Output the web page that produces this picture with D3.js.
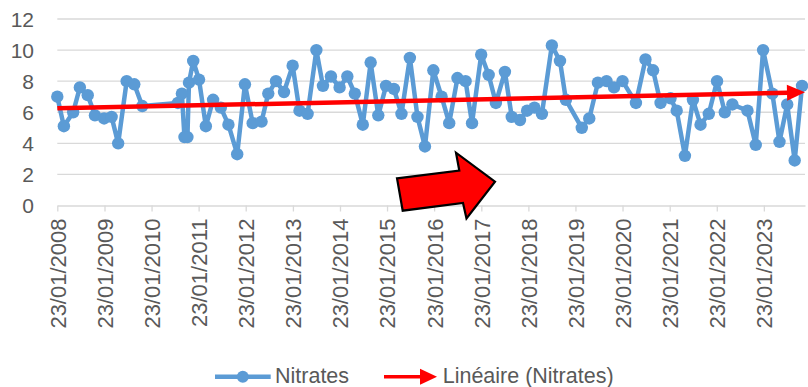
<!DOCTYPE html>
<html><head><meta charset="utf-8">
<script src="https://cdn.jsdelivr.net/npm/d3@7"></script>
<style>body{margin:0;background:#fff;}svg{display:block;font-family:"Liberation Sans",Arial,sans-serif;}</style>
</head><body><svg id="c" width="808" height="387"></svg>
<script>
const dates = ["2008-01-23","2008-03-14","2008-05-25","2008-07-16","2008-09-15","2008-11-10","2009-01-20","2009-03-19","2009-05-09","2009-07-14","2009-09-11","2009-11-12","2010-08-15","2010-09-15","2010-10-05","2010-10-28","2010-11-09","2010-12-12","2011-01-26","2011-03-20","2011-05-15","2011-07-14","2011-09-11","2011-11-18","2012-01-17","2012-03-17","2012-05-25","2012-07-16","2012-09-14","2012-11-15","2013-01-21","2013-03-15","2013-05-17","2013-07-24","2013-09-13","2013-11-14","2014-01-20","2014-03-21","2014-05-18","2014-07-19","2014-09-18","2014-11-16","2015-01-15","2015-03-17","2015-05-15","2015-07-19","2015-09-16","2015-11-13","2016-01-17","2016-03-21","2016-05-19","2016-07-22","2016-09-23","2016-11-12","2017-01-22","2017-03-21","2017-05-16","2017-07-25","2017-09-16","2017-11-19","2018-01-13","2018-03-11","2018-05-08","2018-07-24","2018-09-25","2018-11-10","2019-03-13","2019-05-10","2019-07-16","2019-09-21","2019-11-18","2020-01-23","2020-05-06","2020-07-19","2020-09-16","2020-11-13","2021-01-29","2021-03-18","2021-05-21","2021-07-22","2021-09-19","2021-11-22","2022-01-25","2022-03-26","2022-05-24","2022-09-18","2022-11-21","2023-01-17","2023-03-30","2023-05-24","2023-07-23","2023-09-19","2023-11-15"];
const nitrates = [7.0,5.1,6.0,7.6,7.1,5.8,5.6,5.7,4.0,8.0,7.8,6.4,6.6,7.2,4.4,4.4,7.9,9.3,8.1,5.1,6.8,6.3,5.2,3.3,7.8,5.3,5.4,7.2,8.0,7.3,9.0,6.1,5.9,10.0,7.7,8.3,7.6,8.3,7.2,5.2,9.2,5.8,7.7,7.5,5.9,9.5,5.7,3.8,8.7,7.0,5.3,8.2,8.0,5.3,9.7,8.4,6.6,8.6,5.7,5.5,6.1,6.3,5.9,10.3,9.3,6.8,5.0,5.6,7.9,8.0,7.6,8.0,6.6,9.4,8.7,6.6,6.9,6.1,3.2,6.8,5.2,5.9,8.0,6.0,6.5,6.1,3.9,10.0,7.2,4.1,6.5,2.9,7.7];
const tickYears = [2008,2009,2010,2011,2012,2013,2014,2015,2016,2017,2018,2019,2020,2021,2022,2023];
const yTicks = [0,2,4,6,8,10,12];
const axisStart = "2008-01-23", axisEnd = "2023-12-08";
// linear trend line values (as drawn) at axis start and end
const trendDates = ["2008-01-23","2023-12-08"];
const trendValues = [6.25, 7.28];
const seriesName = "Nitrates", trendName = "Linéaire (Nitrates)";

const parse = d3.timeParse("%Y-%m-%d");
const data = dates.map((d,i)=>({date:parse(d), v:nitrates[i]}));
const svg = d3.select("#c");
const x = d3.scaleTime().domain([parse(axisStart), parse(axisEnd)]).range([57.3, 805]);
const y = d3.scaleLinear().domain([0,12]).range([205.5, 19]);
const txt = "#595959", grid = "#D9D9D9", blue = "#5B9BD5";

// gridlines
svg.append("g").selectAll("line").data(yTicks.filter(t=>t>0)).join("line")
  .attr("x1",57.3).attr("x2",805).attr("y1",d=>y(d)).attr("y2",d=>y(d))
  .attr("stroke",grid).attr("stroke-width",1.3);
// y labels
svg.append("g").selectAll("text").data(yTicks).join("text")
  .attr("x",34).attr("y",d=>y(d)).attr("dy","0.36em").attr("text-anchor","end")
  .attr("fill",txt).attr("font-size",21).text(d=>d);
// x axis
const tickDates = tickYears.map(yy=>new Date(yy,0,23));
const xAxis = d3.axisBottom(x).tickValues(tickDates).tickSize(6).tickSizeOuter(0)
  .tickFormat(d3.timeFormat("%d/%m/%Y"));
const gx = svg.append("g").attr("transform","translate(0,205.5)").call(xAxis);
gx.select(".domain").attr("stroke",grid).attr("stroke-width",1.3);
gx.selectAll(".tick line").attr("stroke",grid).attr("stroke-width",1.3);
gx.selectAll(".tick text").attr("fill",txt).attr("font-size",22)
  .attr("font-family","Liberation Sans, Arial, sans-serif")
  .attr("transform","rotate(-90)").attr("text-anchor","end")
  .attr("x",-13).attr("y",0).attr("dy","0.36em");

// series
const line = d3.line().x(d=>x(d.date)).y(d=>y(d.v));
svg.append("path").datum(data).attr("d",line).attr("fill","none")
  .attr("stroke",blue).attr("stroke-width",4.5).attr("stroke-linejoin","round");
svg.append("g").selectAll("circle").data(data).join("circle")
  .attr("cx",d=>x(d.date)).attr("cy",d=>y(d.v)).attr("r",6.2).attr("fill",blue);

// linear trend with arrow head
const tx0 = x(parse(trendDates[0])), ty0 = y(trendValues[0]);
const tx1 = x(parse(trendDates[1])), ty1 = y(trendValues[1]);
const ang = Math.atan2(ty1-ty0, tx1-tx0);
const headL = 18, headW = 8;
const bx = tx1 - headL*Math.cos(ang), by = ty1 - headL*Math.sin(ang);
svg.append("line").attr("x1",tx0).attr("y1",ty0).attr("x2",bx+1*Math.cos(ang)).attr("y2",by+1*Math.sin(ang))
  .attr("stroke","#FF0000").attr("stroke-width",4.5);
svg.append("path").attr("fill","#FF0000").attr("d",
  `M${tx1},${ty1}L${bx - headW*Math.sin(ang)},${by + headW*Math.cos(ang)}L${bx + headW*Math.sin(ang)},${by - headW*Math.cos(ang)}Z`);

// block arrow annotation
svg.append("path").attr("fill","#FF0000").attr("stroke","#000").attr("stroke-width",2.2)
  .attr("stroke-linejoin","miter")
  .attr("d","M397,178.3 L459.3,170.5 L456,152.7 L495,181.7 L466.5,218.5 L463,203 L402.7,210.7 Z");

// legend
const lg = svg.append("g");
lg.append("line").attr("x1",215).attr("x2",270.7).attr("y1",376.7).attr("y2",376.7)
  .attr("stroke",blue).attr("stroke-width",4.5);
lg.append("circle").attr("cx",242.8).attr("cy",376.7).attr("r",6).attr("fill",blue);
lg.append("text").attr("x",275).attr("y",383).attr("fill",txt)
  .attr("font-size",21.5).text(seriesName);
lg.append("line").attr("x1",384).attr("x2",422).attr("y1",376.7).attr("y2",376.7)
  .attr("stroke","#FF0000").attr("stroke-width",3.5);
lg.append("path").attr("fill","#FF0000").attr("d","M420,368.7 L437,376.7 L420,384.7 Z");
lg.append("text").attr("x",442.7).attr("y",382.5).attr("fill",txt)
  .attr("font-size",21.5).text(trendName);
</script></body></html>
